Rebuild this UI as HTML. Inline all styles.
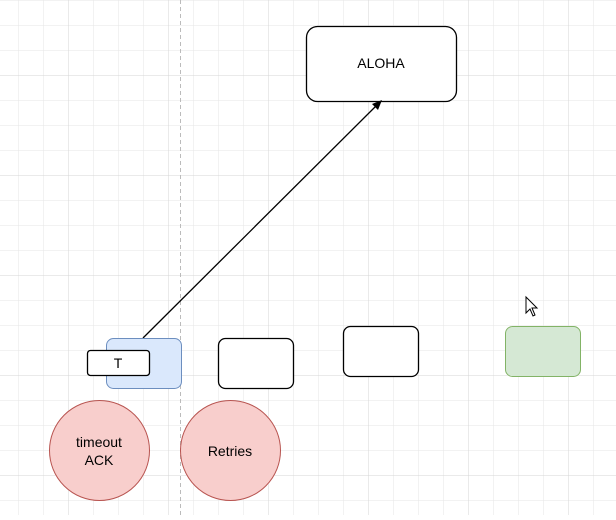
<!DOCTYPE html><html><head><style>
body{margin:0;width:616px;height:515px;overflow:hidden;background:#fff;font-family:"Liberation Sans",sans-serif}
</style></head><body>
<svg width="616" height="515" xmlns="http://www.w3.org/2000/svg">
<defs>
<pattern id="g" width="25" height="25" patternUnits="userSpaceOnUse" x="18" y="0"><path d="M0 0H25M0 0V25" stroke="#e6e6e6" stroke-width="1" fill="none"/></pattern>
<pattern id="G" width="100" height="100" patternUnits="userSpaceOnUse" x="68" y="75"><path d="M0 0H100M0 0V100" stroke="#d6d6d6" stroke-width="1" fill="none"/></pattern>
</defs>
<rect width="616" height="515" fill="url(#g)"/>
<rect width="616" height="515" fill="url(#G)"/>
<line x1="180.5" y1="0" x2="180.5" y2="515" stroke="#bbb" stroke-dasharray="4,3"/>
<rect x="306.5" y="26.5" width="150" height="75" rx="11" fill="#fff" stroke="#000" stroke-width="1.3"/>
<text x="381" y="68" font-size="14" text-anchor="middle" font-family="Liberation Sans">ALOHA</text>
<line x1="143" y1="338" x2="376" y2="106" stroke="#000" stroke-width="1.3"/>
<polygon points="382,100 372,104 378,110" fill="#000"/>
<rect x="106.5" y="338.5" width="75" height="50" rx="7" fill="#dae8fc" stroke="#6c8ebf"/>
<rect x="87.5" y="350.5" width="62" height="25" rx="3" fill="#fff" stroke="#000" stroke-width="1.3"/>
<text x="118" y="368" font-size="14" text-anchor="middle" font-family="Liberation Sans">T</text>
<rect x="218.5" y="338.5" width="75" height="50" rx="7" fill="#fff" stroke="#000" stroke-width="1.3"/>
<rect x="343.5" y="326.5" width="75" height="50" rx="7" fill="#fff" stroke="#000" stroke-width="1.3"/>
<rect x="505.5" y="326.5" width="75" height="50" rx="7" fill="#d5e8d4" stroke="#82b366"/>
<circle cx="99.5" cy="450.5" r="50" fill="#f8cecc" stroke="#b85450"/>
<text x="99" y="447" font-size="14" text-anchor="middle" font-family="Liberation Sans">timeout</text>
<text x="99" y="465" font-size="14" text-anchor="middle" font-family="Liberation Sans">ACK</text>
<circle cx="230.5" cy="450.5" r="50" fill="#f8cecc" stroke="#b85450"/>
<text x="230" y="456" font-size="14" text-anchor="middle" font-family="Liberation Sans">Retries</text>
<path d="M526 297 L526 313 L530 309 L533 316 L535 315 L532 308 L537 308 Z" fill="#fff" stroke="#000" stroke-width="1"/>
</svg>
</body></html>
